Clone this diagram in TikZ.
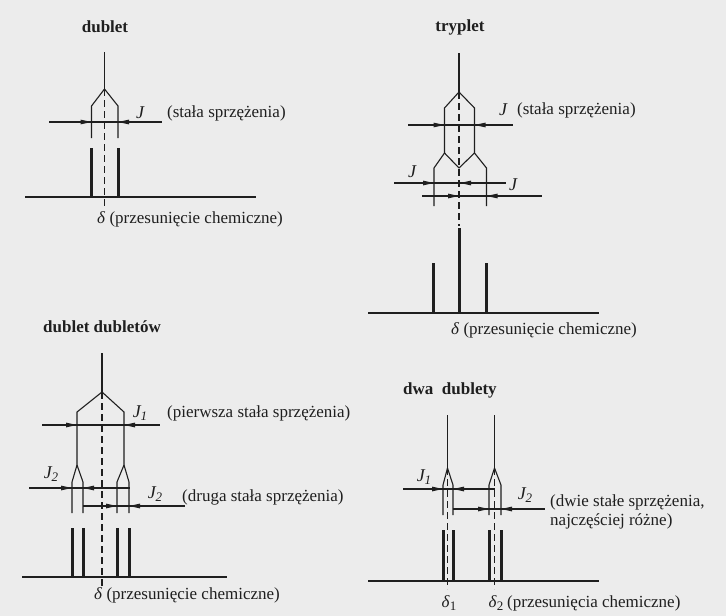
\documentclass[tikz,border=0pt]{standalone}
\usepackage{fontspec}
\setmainfont{Liberation Serif}
\usetikzlibrary{arrows.meta}
\definecolor{ink}{gray}{0.12}
\definecolor{paper}{gray}{0.925}
\newcommand{\Jsub}[1]{\textit{J}\raisebox{-0.45ex}{\fontsize{13}{13}\selectfont #1}}
\newcommand{\dsub}[1]{\textit{δ}\raisebox{-0.45ex}{\fontsize{13}{13}\selectfont #1}}
\begin{document}
\begin{tikzpicture}[x=1pt,y=-1pt,
  ln/.style={draw=ink,line width=1.1pt},
  pk/.style={draw=ink,line width=3pt},
  dsh/.style={draw=ink,line width=1.1pt,dash pattern=on 7pt off 4pt},
  arr/.style={draw=ink,line width=1.1pt,-{Triangle[length=11pt,width=4.5pt]}},
  lbl/.style={inner sep=0pt,anchor=west,text=ink,font=\fontsize{17}{20}\selectfont},
  jl/.style={inner sep=0pt,text=ink,font=\fontsize{18}{20}\selectfont\itshape},
  ttl/.style={inner sep=0pt,text=ink,font=\fontsize{17}{20}\selectfont\bfseries}]
\fill[paper] (0,0) rectangle (726,616);
\useasboundingbox (0,0) rectangle (726,616);

% ================= dublet =================
\node[ttl] (t1) at (105,27) {dublet};
\coordinate (a1) at (104.5,89);
\draw[ln] (104.5,52) -- (a1);
\draw[ln] (a1) -- (91.5,106) -- (91.5,138);
\draw[ln] (a1) -- (118,106) -- (118,138);
\draw[dsh] (a1) -- (104.5,207);
\draw[pk] (91.5,148) -- (91.5,197);
\draw[pk] (118,148) -- (118,197);
\draw[ln] (25,197) -- (256,197);
\draw[ln] (49,122) -- (162,122);
\draw[arr] (70,122) -- (91.5,122);
\draw[arr] (140,122) -- (118,122);
\node[jl] (j1) at (140,113) {J};
\node[lbl] (s1) at (167,113) {(stała sprzężenia)};
\node[lbl] (d1) at (97,219) {\textit{δ} (przesunięcie chemiczne)};

% ================= tryplet =================
\node[ttl] (t2) at (460,27) {tryplet};
\coordinate (a2) at (459,92);
\coordinate (b2) at (459,168);
\draw[ln] (459,53) -- (a2);
\draw[ln] (a2) -- (444.5,108) -- (444.5,153) -- (434,168) -- (434,206);
\draw[ln] (444.5,153) -- (b2);
\draw[ln] (a2) -- (474.5,108) -- (474.5,153) -- (486.5,168) -- (486.5,206);
\draw[ln] (474.5,153) -- (b2);
\draw[dsh] (a2) -- (459,226);
\draw[pk] (459,228) -- (459,313);
\draw[pk] (433.5,263) -- (433.5,313);
\draw[pk] (486,263) -- (486,313);
\draw[ln] (368,313) -- (599,313);
% J lines
\draw[ln] (408,125) -- (513,125);
\draw[arr] (423,125) -- (444.5,125);
\draw[arr] (496,125) -- (474.5,125);
\node[jl] (j2) at (503,110) {J};
\node[lbl] (s2) at (517,110) {(stała sprzężenia)};
\draw[ln] (394,183) -- (506,183);
\draw[arr] (413,183) -- (434,183);
\draw[arr] (481,183) -- (460,183);
\node[jl] (j3) at (412,172) {J};
\draw[ln] (422,196) -- (542,196);
\draw[arr] (438,196) -- (459,196);
\draw[arr] (508,196) -- (486.5,196);
\node[jl] (j4) at (513,185) {J};
\node[lbl] (d2) at (451,330) {\textit{δ} (przesunięcie chemiczne)};

% ================= dublet dubletow =================
\node[ttl,anchor=west] (t3) at (43,327) {dublet dubletów};
\coordinate (a3) at (102,392);
\draw[ln] (102,353) -- (a3);
\draw[ln] (a3) -- (77,412) -- (77,465) -- (72,482) -- (72,513);
\draw[ln] (77,465) -- (83,482) -- (83,513);
\draw[ln] (a3) -- (124,412) -- (124,465) -- (117,482) -- (117,513);
\draw[ln] (124,465) -- (129,482) -- (129,513);
\draw[dsh] (a3) -- (102,589);
\draw[pk] (72,528) -- (72,577);
\draw[pk] (83,528) -- (83,577);
\draw[pk] (117,528) -- (117,577);
\draw[pk] (129,528) -- (129,577);
\draw[ln] (22,577) -- (227,577);
\draw[ln] (42,425) -- (160,425);
\draw[arr] (56,425) -- (77,425);
\draw[arr] (145,425) -- (124,425);
\node[jl] (j5) at (140,413) {\Jsub{1}};
\node[lbl] (s3) at (167,413) {(pierwsza stała sprzężenia)};
\draw[ln] (29,488) -- (130,488);
\draw[arr] (52,488) -- (72,488);
\draw[arr] (103,488) -- (83,488);
\node[jl] (j6) at (51,474) {\Jsub{2}};
\draw[ln] (83,506) -- (185,506);
\draw[arr] (97,506) -- (117,506);
\draw[arr] (149,506) -- (129,506);
\node[jl] (j7) at (155,494) {\Jsub{2}};
\node[lbl] (s4) at (182,497) {(druga stała sprzężenia)};
\node[lbl] (d3) at (94,595) {\textit{δ} (przesunięcie chemiczne)};

% ================= dwa dublety =================
\node[ttl,anchor=west] (t4) at (403,390) {dwa\ \ dublety};
\coordinate (a4) at (447.5,468);
\coordinate (a5) at (494.5,468);
\draw[ln] (447.5,415) -- (a4);
\draw[ln] (494.5,415) -- (a5);
\draw[ln] (a4) -- (443,485) -- (443,515);
\draw[ln] (a4) -- (453,485) -- (453,515);
\draw[ln] (a5) -- (489,485) -- (489,515);
\draw[ln] (a5) -- (501,485) -- (501,515);
\draw[dsh] (a4) -- (447.5,589);
\draw[dsh] (a5) -- (494.5,589);
\draw[pk] (443,530) -- (443,581);
\draw[pk] (453,530) -- (453,581);
\draw[pk] (489,530) -- (489,581);
\draw[pk] (501,530) -- (501,581);
\draw[ln] (368,581) -- (599,581);
\draw[ln] (403,489) -- (495,489);
\draw[arr] (422,489) -- (443,489);
\draw[arr] (474,489) -- (453,489);
\node[jl] (j8) at (424,477) {\Jsub{1}};
\draw[ln] (453,509) -- (545,509);
\draw[arr] (468,509) -- (489,509);
\draw[arr] (522,509) -- (501,509);
\node[jl] (j9) at (525,495) {\Jsub{2}};
\node[lbl,align=left,anchor=north west] (s5) at (550,494) {(dwie stałe sprzężenia,\\[-1pt]najczęściej różne)};
\node[jl,font=\fontsize{17}{20}\selectfont] (d4) at (449,603) {\dsub{1}};
\node[jl,font=\fontsize{17}{20}\selectfont] (d5) at (496,603) {\dsub{2}};
\node[lbl] (s6) at (507,603) {(przesunięcia chemiczne)};
\end{tikzpicture}
\end{document}
